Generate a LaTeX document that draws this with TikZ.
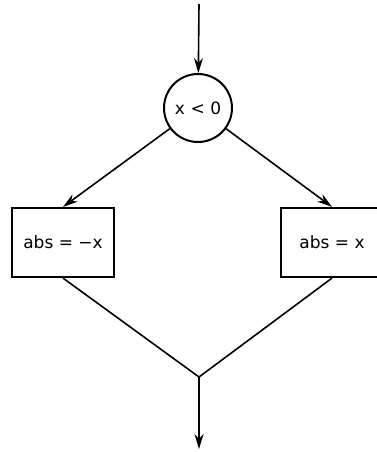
\documentclass[tikz,border=0pt]{standalone}
\usepackage{fontspec}
\setmainfont{DejaVu Sans}
\usetikzlibrary{arrows.meta}
\begin{document}
\begin{tikzpicture}[x=1pt,y=-1pt,
  flow/.style={line width=1.6pt,-{Stealth[length=15pt,width=9pt]}},
  link/.style={line width=1.6pt},
  decision/.style={circle,draw,line width=2pt,minimum size=68pt,inner sep=0pt,font=\fontsize{17}{20}\selectfont},
  process/.style={rectangle,draw,line width=2.2pt,minimum width=102pt,minimum height=69pt,inner sep=0pt,font=\fontsize{17}{20}\selectfont}]
\useasboundingbox (0,0) rectangle (377,452);
\clip (0,0) rectangle (377,452);
\coordinate (start) at (199,4);
\node[decision] (test) at (198,108) {x\,\,<\,\,0};
\node[process] (left) at (63,242.5) {abs = −x};
\node[process] (right) at (332,242.5) {abs = x};
\coordinate (join) at (199,377);
\coordinate (stop) at (199,449);
\draw[flow] (start) -- (test);
\draw[flow] (test) -- (left.north);
\draw[flow] (test) -- (right.north);
\draw[link] (left.south) -- (join);
\draw[link] (right.south) -- (join);
\draw[flow] (join) -- (stop);
\end{tikzpicture}
\end{document}
